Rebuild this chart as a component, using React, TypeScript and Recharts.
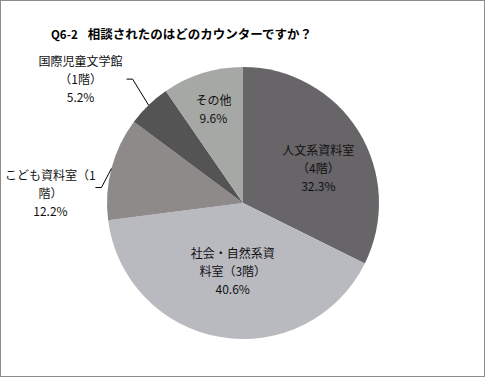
import { Pie, PieChart, Cell } from "recharts";

const categories = [
  "人文系資料室（4階）",
  "社会・自然系資料室（3階）",
  "こども資料室（1階）",
  "国際児童文学館（1階）",
  "その他",
];
const shares = [32.3, 40.6, 12.2, 5.2, 9.6];
const labelLines = [
  ["人文系資料室", "（4階）"],
  ["社会・自然系資", "料室（3階）"],
  ["こども資料室（1", "階）"],
  ["国際児童文学館", "（1階）"],
  ["その他"],
];
const colors = ["#676568", "#b9b9c0", "#8e8a8a", "#545455", "#a6a8a5"];

// label placement per slice (inside: radius factor + nudge, outside: leader line)
const labelLayout = [
  { r: 0.6, dx: 6, dy: 8 },
  { r: 0.5, dx: 1, dy: 0 },
  { outside: true, elbow: [-10, 19], tail: [-16, 19], text: [-61, 24] },
  { outside: true, elbow: [-16, -26], tail: [-22, -26], text: [-68, -27] },
  { r: 0.73, dx: 0, dy: 0 },
];

const data = categories.map((name, i) => ({ name, value: shares[i] }));
const RADIAN = Math.PI / 180;
const font = "'MS PGothic', 'Noto Sans CJK JP', sans-serif";

function renderLabel(props: any) {
  const { cx, cy, midAngle, outerRadius, index, value } = props;
  const lay: any = labelLayout[index];
  const cos = Math.cos(-midAngle * RADIAN);
  const sin = Math.sin(-midAngle * RADIAN);
  const lines = [...labelLines[index], `${value.toFixed(1)}%`];
  let tx: number;
  let ty: number;
  let leader = null;
  if (lay.outside) {
    const ex = cx + outerRadius * cos;
    const ey = cy + outerRadius * sin;
    leader = (
      <polyline
        points={`${ex},${ey} ${ex + lay.elbow[0]},${ey + lay.elbow[1]} ${ex + lay.tail[0]},${ey + lay.tail[1]}`}
        fill="none"
        stroke="#000"
        strokeWidth={1}
      />
    );
    tx = ex + lay.text[0];
    ty = ey + lay.text[1];
  } else {
    tx = cx + outerRadius * lay.r * cos + lay.dx;
    ty = cy + outerRadius * lay.r * sin + lay.dy;
  }
  const lh = 18;
  const top = ty - ((lines.length - 1) * lh) / 2;
  return (
    <g key={`lbl-${index}`}>
      {leader}
      {lines.map((t, k) => (
        <text
          key={k}
          x={tx}
          y={top + k * lh}
          textAnchor="middle"
          dominantBaseline="central"
          fontSize={12}
          fontFamily={font}
          fill="#111"
        >
          {t}
        </text>
      ))}
    </g>
  );
}

export default function App() {
  return (
    <div
      style={{
        position: "absolute",
        left: 0,
        top: 0,
        width: 485,
        height: 377,
        boxSizing: "border-box",
        border: "1px solid #8c8c8c",
        background: "#fff",
      }}
    >
      <div
        style={{
          position: "absolute",
          left: 50,
          top: 23,
          fontFamily: font,
          fontWeight: "bold",
          fontSize: 12.5,
          color: "#000",
          whiteSpace: "nowrap",
        }}
      >
        <span style={{ fontSize: 11.5, marginRight: 10 }}>Q6-2</span>
        相談されたのはどのカウンターですか？
      </div>
      <PieChart
        width={483}
        height={375}
        margin={{ top: 0, right: 0, bottom: 0, left: 0 }}
      >
        <Pie
          data={data}
          dataKey="value"
          nameKey="name"
          cx={242}
          cy={202}
          outerRadius={136}
          startAngle={90}
          endAngle={-270}
          stroke="none"
          label={renderLabel}
          labelLine={false}
          isAnimationActive={false}
        >
          {data.map((_, i) => (
            <Cell key={`cell-${i}`} fill={colors[i]} />
          ))}
        </Pie>
      </PieChart>
    </div>
  );
}
